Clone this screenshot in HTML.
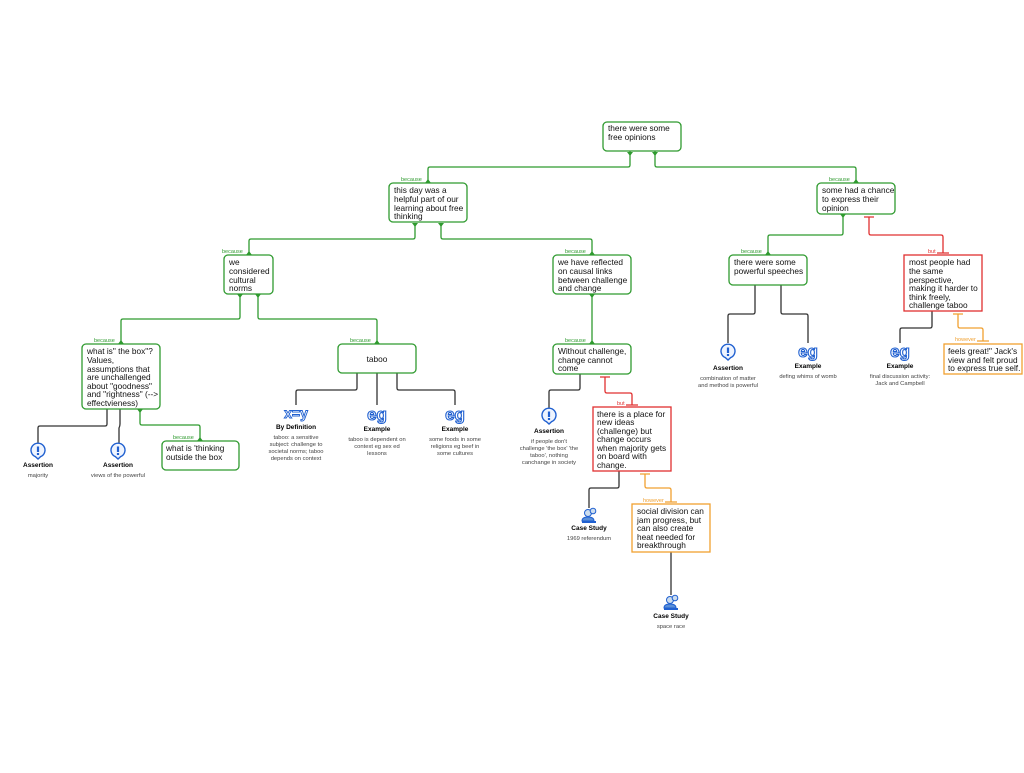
<!DOCTYPE html>
<html><head><meta charset="utf-8"><style>
body{margin:0;background:#fff;width:1024px;height:768px;overflow:hidden}
svg{font-family:"Liberation Sans",sans-serif}
.b{fill:#fff;stroke-width:1.3}
.g{stroke:#2f9a2f}.r{stroke:#e03030}.o{stroke:#f0a030}
.t{font-size:8.3px;fill:#111}
.l{font-size:5.5px}
.c{fill:none;stroke-width:1.3;stroke-linejoin:round}
.k{stroke:#333}
.h{font-size:6.5px;font-weight:bold;fill:#000;text-anchor:middle}
.s{font-size:5.8px;fill:#444;text-anchor:middle}
.ic{font-size:14px;font-weight:bold;fill:#2060d0;text-anchor:middle}
.eg{font-size:17px;fill:#fff;stroke:#2060d0;stroke-width:1.1;text-anchor:middle;font-weight:bold}
</style></head><body>
<svg width="1024" height="768" viewBox="0 0 1024 768">
<defs>
<g id="as"><path d="M0 8l-2.5-2.3A7 7 0 1 1 2.5 5.7z" fill="#eef4ff" stroke="#2060d0" stroke-width="1.4"/><rect x="-1.1" y="-4.5" width="2.2" height="5.5" fill="#2060d0"/><rect x="-1.1" y="2" width="2.2" height="2" fill="#2060d0"/></g>
<g id="cs"><circle cx="-2" cy="-3" r="3.5" fill="#cde" stroke="#2060d0"/><circle cx="3" cy="-5" r="2.8" fill="#cde" stroke="#2060d0"/><path d="M-8 5Q-8 1 -2 1Q4 1 4 5z" fill="#5a8fd8" stroke="#2060d0"/><rect x="-8" y="5" width="14" height="2" fill="#2060d0"/></g>
</defs>
<g class="c g">
<path d="M630 151V165Q630 167 628 167H430Q428 167 428 169V183"/>
<path d="M655 151V165Q655 167 657 167H854Q856 167 856 169V183"/>
<path d="M415 223V237Q415 239 413 239H251Q249 239 249 241V255"/>
<path d="M441 223V237Q441 239 443 239H590Q592 239 592 241V255"/>
<path d="M843 214V233Q843 235 841 235H770Q768 235 768 237V255"/>
<path d="M240 294V317Q240 319 238 319H123Q121 319 121 321V344"/>
<path d="M258 294V317Q258 319 260 319H375Q377 319 377 321V344"/>
<path d="M592 294V344"/>
<path d="M140 409V423Q140 425 142 425H198Q200 425 200 427V441"/>
</g>
<g fill="#2f9a2f">
<path d="M425 183l3-4 3 4z"/><path d="M853 183l3-4 3 4z"/><path d="M246 255l3-4 3 4z"/><path d="M589 255l3-4 3 4z"/><path d="M765 255l3-4 3 4z"/><path d="M118 344l3-4 3 4z"/><path d="M374 344l3-4 3 4z"/><path d="M589 344l3-4 3 4z"/><path d="M197 441l3-4 3 4z"/>
<path d="M627 152l3 4 3-4z"/><path d="M652 152l3 4 3-4z"/><path d="M412 223l3 4 3-4z"/><path d="M438 223l3 4 3-4z"/><path d="M840 214l3 4 3-4z"/><path d="M237 294l3 4 3-4z"/><path d="M255 294l3 4 3-4z"/><path d="M589 294l3 4 3-4z"/><path d="M137 409l3 4 3-4z"/>
</g>
<g fill="#2f9a2f" class="l">
<text x="401" y="181">because</text><text x="829" y="181">because</text><text x="222" y="253">because</text><text x="565" y="253">because</text><text x="741" y="253">because</text><text x="94" y="342">because</text><text x="350" y="342">because</text><text x="565" y="342">because</text><text x="173" y="439">because</text>
</g>
<g class="c r">
<path d="M869 217V233Q869 235 871 235H941Q943 235 943 237V253"/><path d="M864 217h10M937 253h12"/>
<path d="M605 377V391Q605 393 607 393H630Q632 393 632 395V405"/><path d="M600 377h10M626 405h12"/>
</g>
<g fill="#e03030" class="l"><text x="928" y="253">but</text><text x="617" y="405">but</text></g>
<g class="c o">
<path d="M645 474V486Q645 488 647 488H669Q671 488 671 490V502"/><path d="M640 474h10M665 502h12"/>
<path d="M958 314V326Q958 328 960 328H981Q983 328 983 330V341"/><path d="M953 314h10M977 341h12"/>
</g>
<g fill="#f0a030" class="l"><text x="643" y="502">however</text><text x="955" y="341">however</text></g>
<g class="c k">
<path d="M107 409V424Q107 426 105 426H40Q38 426 38 428V443"/>
<path d="M120 409V424Q120 426 119 428V443"/>
<path d="M357 373V388Q357 390 355 390H298Q296 390 296 392V405"/>
<path d="M377 373V405"/>
<path d="M397 373V388Q397 390 399 390H453Q455 390 455 392V405"/>
<path d="M580 374V388Q580 390 578 390H551Q549 390 549 392V408"/>
<path d="M619 471V486Q619 488 617 488H591Q589 488 589 490V508"/>
<path d="M671 551V595"/>
<path d="M755 285V312Q755 314 753 314H730Q728 314 728 316V343"/>
<path d="M781 285V312Q781 314 783 314H806Q808 314 808 316V343"/>
<path d="M932 311V326Q932 328 930 328H902Q900 328 900 330V343"/>
</g>
<rect class="b g" x="603" y="122" width="78" height="29" rx="4"/>
<text class="t" x="608" y="131">there were some</text><text class="t" x="608" y="140">free opinions</text>
<rect class="b g" x="389" y="183" width="78" height="39" rx="4"/>
<text class="t" x="394" y="193">this day was a</text><text class="t" x="394" y="202">helpful part of our</text><text class="t" x="394" y="211">learning about free</text><text class="t" x="394" y="219">thinking</text>
<rect class="b g" x="817" y="183" width="78" height="31" rx="4"/>
<text class="t" x="822" y="193">some had a chance</text><text class="t" x="822" y="202">to express their</text><text class="t" x="822" y="211">opinion</text>
<rect class="b g" x="224" y="255" width="49" height="39" rx="4"/>
<text class="t" x="229" y="265">we</text><text class="t" x="229" y="274">considered</text><text class="t" x="229" y="283">cultural</text><text class="t" x="229" y="291">norms</text>
<rect class="b g" x="553" y="255" width="78" height="39" rx="4"/>
<text class="t" x="558" y="265">we have reflected</text><text class="t" x="558" y="274">on causal links</text><text class="t" x="558" y="283">between challenge</text><text class="t" x="558" y="291">and change</text>
<rect class="b g" x="729" y="255" width="78" height="30" rx="4"/>
<text class="t" x="734" y="265">there were some</text><text class="t" x="734" y="274">powerful speeches</text>
<rect class="b r" x="904" y="255" width="78" height="56"/>
<text class="t" x="909" y="265">most people had</text><text class="t" x="909" y="274">the same</text><text class="t" x="909" y="283">perspective,</text><text class="t" x="909" y="291">making it harder to</text><text class="t" x="909" y="300">think freely,</text><text class="t" x="909" y="308">challenge taboo</text>
<rect class="b g" x="82" y="344" width="78" height="65" rx="4"/>
<text class="t" x="87" y="354">what is" the box"?</text><text class="t" x="87" y="363">Values,</text><text class="t" x="87" y="372">assumptions that</text><text class="t" x="87" y="380">are unchallenged</text><text class="t" x="87" y="389">about "goodness"</text><text class="t" x="87" y="397">and "rightness" (--&gt;</text><text class="t" x="87" y="406">effectvieness)</text>
<rect class="b g" x="338" y="344" width="78" height="29" rx="4"/>
<text class="t" x="377" y="362" text-anchor="middle">taboo</text>
<rect class="b g" x="553" y="344" width="78" height="30" rx="4"/>
<text class="t" x="558" y="354">Without challenge,</text><text class="t" x="558" y="363">change cannot</text><text class="t" x="558" y="371">come</text>
<rect class="b g" x="162" y="441" width="77" height="29" rx="4"/>
<text class="t" x="166" y="451">what is 'thinking</text><text class="t" x="166" y="460">outside the box</text>
<rect class="b r" x="593" y="407" width="78" height="64"/>
<text class="t" x="597" y="417">there is a place for</text><text class="t" x="597" y="425">new ideas</text><text class="t" x="597" y="434">(challenge) but</text><text class="t" x="597" y="442">change occurs</text><text class="t" x="597" y="451">when majority gets</text><text class="t" x="597" y="459">on board with</text><text class="t" x="597" y="468">change.</text>
<rect class="b o" x="632" y="504" width="78" height="48"/>
<text class="t" x="637" y="514">social division can</text><text class="t" x="637" y="523">jam progress, but</text><text class="t" x="637" y="531">can also create</text><text class="t" x="637" y="540">heat needed for</text><text class="t" x="637" y="548">breakthrough</text>
<rect class="b o" x="944" y="344" width="78" height="30"/>
<text class="t" x="948" y="354">feels great!" Jack's</text><text class="t" x="948" y="363">view and felt proud</text><text class="t" x="948" y="371">to express true self.</text>
<use href="#as" x="38" y="451"/><use href="#as" x="118" y="451"/><use href="#as" x="549" y="416"/><use href="#as" x="728" y="352"/>
<use href="#cs" x="590" y="516"/><use href="#cs" x="672" y="603"/>
<text class="ic" x="296" y="418" font-size="12" style="fill:#fff;stroke:#2060d0;stroke-width:0.9">x=y</text>
<text class="eg" x="377" y="420">eg</text><text class="eg" x="455" y="420">eg</text><text class="eg" x="808" y="357">eg</text><text class="eg" x="900" y="357">eg</text>
<g>
<text class="h" x="38" y="467">Assertion</text><text class="s" x="38" y="477">majority</text>
<text class="h" x="118" y="467">Assertion</text><text class="s" x="118" y="477">views of the powerful</text>
<text class="h" x="296" y="429">By Definition</text><text class="s" x="296" y="439">taboo: a sensitive</text><text class="s" x="296" y="446">subject: challenge to</text><text class="s" x="296" y="453">societal norms; taboo</text><text class="s" x="296" y="460">depends on context</text>
<text class="h" x="377" y="431">Example</text><text class="s" x="377" y="441">taboo is dependent on</text><text class="s" x="377" y="448">context eg sex ed</text><text class="s" x="377" y="455">lessons</text>
<text class="h" x="455" y="431">Example</text><text class="s" x="455" y="441">some foods in some</text><text class="s" x="455" y="448">religions eg beef in</text><text class="s" x="455" y="455">some cultures</text>
<text class="h" x="549" y="433">Assertion</text><text class="s" x="549" y="443">if people don't</text><text class="s" x="549" y="450">challenge 'the box' 'the</text><text class="s" x="549" y="457">taboo', nothing</text><text class="s" x="549" y="464">canchange in society</text>
<text class="h" x="589" y="530">Case Study</text><text class="s" x="589" y="540">1969 referendum</text>
<text class="h" x="671" y="618">Case Study</text><text class="s" x="671" y="628">space race</text>
<text class="h" x="728" y="370">Assertion</text><text class="s" x="728" y="380">combination of matter</text><text class="s" x="728" y="387">and method is powerful</text>
<text class="h" x="808" y="368">Example</text><text class="s" x="808" y="378">defing whims of womb</text>
<text class="h" x="900" y="368">Example</text><text class="s" x="900" y="378">final discussion activity:</text><text class="s" x="900" y="385">Jack and Campbell</text>
</g>
</svg>
</body></html>
